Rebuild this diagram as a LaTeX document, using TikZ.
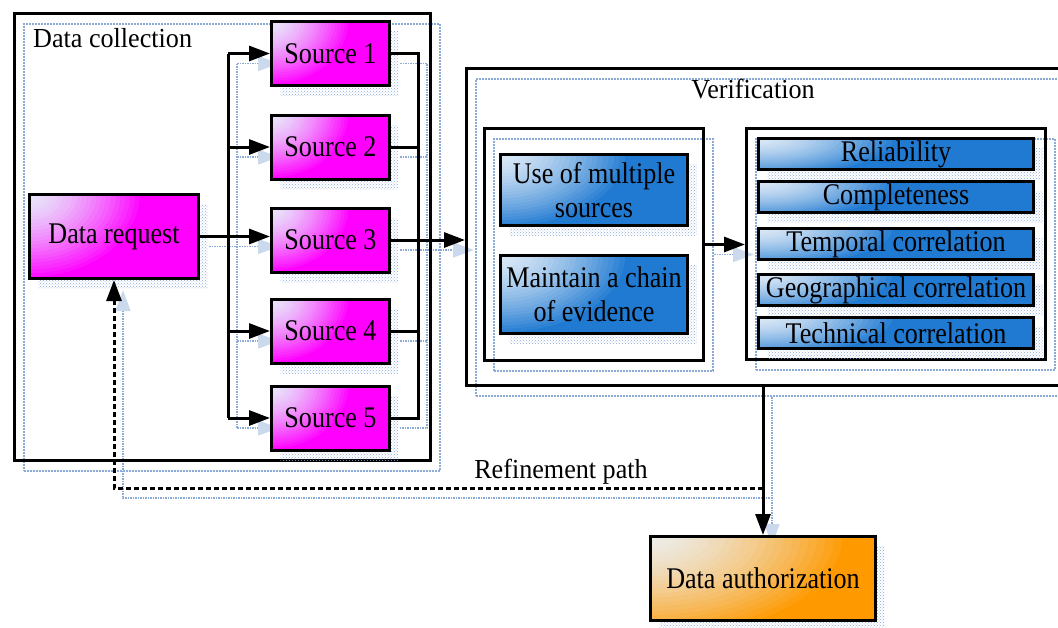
\documentclass[tikz,border=0pt]{standalone}
\usepackage{fontspec}
\setmainfont{Liberation Serif}
\newfontfamily\boxfont[FakeStretch=0.87]{Liberation Serif}
\newfontfamily\lblfont[FakeStretch=0.95]{Liberation Serif}
\usetikzlibrary{arrows.meta,shadows,patterns}

\definecolor{shblue}{RGB}{140,170,215}
\definecolor{magfull}{RGB}{255,0,255}
\definecolor{maglight}{RGB}{232,230,250}
\definecolor{bluefull}{RGB}{32,122,210}
\definecolor{bluelight}{RGB}{218,232,246}
\definecolor{orfull}{RGB}{255,153,0}
\definecolor{orlight}{RGB}{236,236,232}

\pgfdeclarelayer{bg}
\pgfsetlayers{bg,main}

\tikzset{
  txt/.style={font=\boxfont\fontsize{30}{34}\selectfont, align=center},
  lbl/.style={font=\lblfont\fontsize{27.5}{30}\selectfont, inner sep=0pt},
  boxshadow/.style={general shadow={shadow xshift=9pt, shadow yshift=-10pt,
      pattern=crosshatch dots, pattern color=shblue}},
  frameshadow/.style={general shadow={shadow xshift=9pt, shadow yshift=-10pt,
      draw=shblue, densely dotted, line width=2pt}},
  frame/.style={draw=black, line width=3pt, inner sep=0pt, frameshadow},
  % full colour, fading to a pale tint towards the upper left corner
  glowfill/.style n args={4}{fill=#1, path picture={
      \foreach \k in {24,23,...,1}{
        \pgfmathtruncatemacro\p{100*(\k/24)^1.5}
        \fill[#1!\p!#2] (path picture bounding box.north west)
          ellipse ({\k*#3/24} and {\k*#4/24});}}},
  boxbase/.style={txt, draw=black, line width=3pt, inner sep=0pt, boxshadow},
  wire/.style={line width=3pt, draw=black},
  tip/.style={-{Triangle[length=21pt,width=15pt]}},
  dashline/.style={dash pattern=on 5pt off 3pt},
}

% all connectors; drawn once as the offset shadow and once in black
\newcommand\wiring{%
  \draw[wire] (s1.west -| lbus) -- (s5.west -| lbus);
  \foreach \i in {1,2,4,5} \draw[wire,tip] (s\i.west -| lbus) -- (s\i.west);
  \draw[wire,tip] (dr.east) -- (dr.east -| s3.west);
  \draw[wire] (s1.east) -- (s1.east -| rbus) -- (s5.east -| rbus) -- (s5.east);
  \draw[wire] (s2.east) -- (s2.east -| rbus);
  \draw[wire] (s4.east) -- (s4.east -| rbus);
  \draw[wire,tip] (s3.east) -- (s3.east -| verif.west);
  \draw[wire,tip] (inL.east) -- (inL.east -| inR.west);
  \draw[wire,tip] (verif.south -| auth.north) -- (auth.north);
  \draw[wire,dashline,tip] (turn) -| (dr.south);
}

\begin{document}
\begin{tikzpicture}[x=1pt,y=-1pt]
\useasboundingbox (0,0) rectangle (1058,627);
\clip (0,0) rectangle (1058,627);

% ---- data collection stage
\node[frame, minimum width=416pt, minimum height=447pt] (dc) at (222.5,237) {};
\node[lbl, anchor=base west] (dclabel) at (33,47) {Data collection};

\foreach \i/\y in {1/53.5,2/147,3/240,4/331,5/418}
  \node[boxbase, glowfill={magfull}{maglight}{80}{65},
        minimum width=118pt, minimum height=64pt] (s\i) at (330.5,\y) {Source \i};

\node[boxbase, glowfill={magfull}{maglight}{115}{86},
      minimum width=169pt, minimum height=84pt] (dr) at (114,236.5) {Data request};

% ---- verification stage
\node[frame, minimum width=601.5pt, minimum height=317pt] (verif) at (767.25,227) {};
\node[lbl, anchor=base] (veriflabel) at (753,98) {Verification};

\node[frame, minimum width=219pt, minimum height=232pt] (inL) at (594,244.5) {};
\node[boxbase, glowfill={bluefull}{bluelight}{130}{75},
      minimum width=187pt, minimum height=71pt] (use) at (594,190) {Use of multiple\\sources};
\node[boxbase, glowfill={bluefull}{bluelight}{130}{80},
      minimum width=187pt, minimum height=78pt] (chain) at (594,294.5) {Maintain a chain\\of evidence};

\node[frame, minimum width=299pt, minimum height=231pt] (inR) at (896,244) {};
\foreach \n/\y/\t in {rel/154/Reliability, comp/197/Completeness,
    temp/244/Temporal correlation, geo/290/Geographical correlation,
    tech/333/Technical correlation}
  \node[boxbase, glowfill={bluefull}{bluelight}{140}{40},
        minimum width=275pt, minimum height=31pt] (\n) at (896,\y) {\t};

% ---- authorization
\node[boxbase, glowfill={orfull}{orlight}{200}{105},
      minimum width=225pt, minimum height=84pt] (auth) at (763,578.5) {Data authorization};

% ---- connectors
\coordinate (lbus) at (228,0);
\coordinate (rbus) at (418,0);
\coordinate (turn) at (763,488);

\begin{pgfonlayer}{bg}
  \begin{scope}[transform canvas={shift={(9pt,-10pt)}},
      wire/.style={line width=1.5pt, draw=shblue, densely dotted},
      dashline/.style={},
      tip/.style={-{Triangle[length=21pt,width=15pt,color=shblue!45,fill=shblue!45]}}]
    \wiring
  \end{scope}
\end{pgfonlayer}
\wiring

\node[lbl, anchor=base] (reflabel) at (561,478) {Refinement path};
\end{tikzpicture}
\end{document}
